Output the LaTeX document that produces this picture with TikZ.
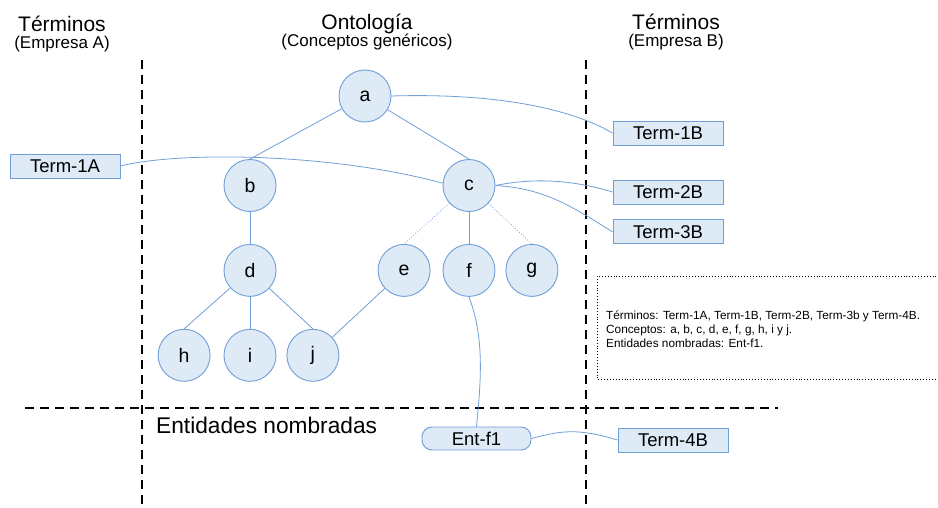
\documentclass[tikz,border=0pt]{standalone}
\usepackage{fontspec}
\setmainfont{Liberation Sans}
\usetikzlibrary{positioning}

\definecolor{nodefill}{RGB}{222,234,246}
\definecolor{nodeline}{RGB}{112,158,214}

\begin{document}
\begin{tikzpicture}[
			x=1pt, y=1pt,
			concept/.style={circle, draw=nodeline, fill=nodefill, line width=0.9pt, minimum size=52pt, inner sep=0pt, font=\fontsize{19.5}{19.5}\selectfont},
			term/.style={rectangle, draw=nodeline, fill=nodefill, line width=0.9pt, minimum width=110pt, minimum height=24pt, inner sep=0pt, font=\fontsize{18.5}{18.5}\selectfont},
			entity/.style={rectangle, rounded corners=10pt, draw=nodeline, fill=nodefill, line width=0.9pt, minimum width=109pt, minimum height=23pt, inner sep=0pt, font=\fontsize{18.5}{18.5}\selectfont},
			link/.style={draw=nodeline, line width=0.8pt},
			weak/.style={draw=nodeline, line width=0.8pt, dotted},
			divider/.style={draw=black, line width=1.1pt, dash pattern=on 9pt off 6pt},
			title/.style={anchor=base, inner sep=0pt, text depth=0pt, font=\fontsize{21}{21}\selectfont},
			subtitle/.style={anchor=base, inner sep=0pt, text height=11pt, text depth=3pt, font=\fontsize{17}{17}\selectfont}
			]
			\useasboundingbox (0,0) rectangle (938,-508);
			
			% Titoli
			\node[title] (tA) at (62,-31.5) {Términos};
			\node[subtitle] (sA) at (62,-49) {(Empresa A)};
			\node[title] (tO) at (367,-29.5) {Ontología};
			\node[subtitle] (sO) at (367,-47) {(Conceptos genéricos)};
			\node[title] (tB) at (676,-29.5) {Términos};
			\node[subtitle] (sB) at (676,-47) {(Empresa B)};
			
			% Linee di separazione
			\draw[divider] (142,-60) -- (142,-508);
			\draw[divider] (586,-60) -- (586,-508);
			\draw[divider] (25,-408) -- (778,-408);
			\node[anchor=base west, inner sep=0pt, font=\fontsize{22.7}{22.7}\selectfont] (ent) at (156,-433) {Entidades nombradas};
			
			% Concetti
			\node[concept] (a) at (365,-96) {a};
			\node[concept] (b) at (250,-185.5) {b};
			\node[concept] (c) at (469,-185.5) {c};
			\node[concept] (d) [below=32pt of b] {d};
			\node[concept] (f) [below=32pt of c] {f};
			\node[concept] (e) [left=12pt of f] {e};
			\node[concept] (g) [right=10pt of f] {g};
			\node[concept] (i) [below=32pt of d] {i};
			\node[concept] (h) [left=13pt of i] {h};
			\node[concept] (j) [right=10pt of i] {j};
			
			\draw[link] (a) -- (b.north);
			\draw[link] (a) -- (c.north);
			\draw[link] (b) -- (d);
			\draw[link] (d) -- (h.north);
			\draw[link] (d) -- (i);
			\draw[link] (d) -- (j.north);
			\draw[link] (e) -- (j);
			\draw[weak] (c) -- (e.north);
			\draw[link] (c) -- (f);
			\draw[weak] (c) -- (g.north);
			
			% Termini
			\node[term] (t1A) at (65,-166) {Term-1A};
			\node[term] (t1B) at (668,-133) {Term-1B};
			\node[term] (t2B) at (668,-192) {Term-2B};
			\node[term] (t3B) [below=15pt of t2B] {Term-3B};
			\node[term] (t4B) at (673,-440) {Term-4B};
			\node[entity] (ef1) at (476.5,-438.5) {Ent-f1};
			
			\draw[link] (t1A.east) .. controls +(60,15) and +(-110,30) .. (c.175);
			\draw[link] (a.east) .. controls +(100,3) and +(-45,26) .. (t1B.west);
			\draw[link] (c.east) .. controls +(40,8) and +(-40,12) .. (t2B.west);
			\draw[link] (c.east) .. controls +(50,-3) and +(-40,25) .. (t3B.west);
			\draw[link] (f.south) .. controls +(15,-40) and +(5,50) .. (ef1.north);
			\draw[link] (ef1.east) .. controls +(30,8) and +(-40,12) .. (t4B.west);
			
			% Riquadro riassuntivo
			\draw[line width=0.9pt, dotted] (945,-276) -- (597,-276) -- (597,-379) -- (945,-379);
			\node[anchor=west, align=left, inner sep=0pt, font=\fontsize{11.8}{13.8}\selectfont] (info) at (606,-329)
				{Términos: Term-1A, Term-1B, Term-2B, Term-3b y Term-4B.\\
				 Conceptos: a, b, c, d, e, f, g, h, i y j.\\
				 Entidades nombradas: Ent-f1.};
			
		\end{tikzpicture}
\end{document}
